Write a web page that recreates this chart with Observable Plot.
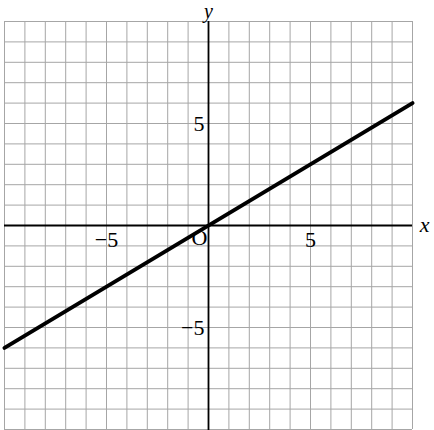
<!DOCTYPE html>
<html>
<head>
<meta charset="utf-8">
<script src="https://cdn.jsdelivr.net/npm/d3@7"></script>
<script src="https://cdn.jsdelivr.net/npm/@observablehq/plot@0.6"></script>
<style>
  html, body { margin: 0; padding: 0; background: #fff; }
</style>
</head>
<body>
<div id="chart"></div>
<script>
const gridValues = d3.range(-10, 11);
const lineX = [-10, 10];
const lineY = [-6, 6];
const xTickLabels = [-5, 5];
const yTickLabels = [-5, 5];

const lineData = lineX.map((x, i) => ({x, y: lineY[i]}));
const font = "Liberation Serif";
const fmt = v => v < 0 ? "\u2212" + Math.abs(v) : String(v);

const chart = Plot.plot({
  width: 434,
  height: 430,
  marginLeft: 4,
  marginRight: 22,
  marginTop: 21,
  marginBottom: 1,
  x: {domain: [-10, 10], axis: null},
  y: {domain: [-10, 10], axis: null},
  marks: [
    Plot.ruleX(gridValues, {x: d => d, y1: -10, y2: 10, stroke: "#a6a6a6", strokeWidth: 1}),
    Plot.ruleY(gridValues, {y: d => d, x1: -10, x2: 10, stroke: "#a6a6a6", strokeWidth: 1}),
    Plot.ruleX([0], {y1: -10.1, y2: 10, stroke: "#000", strokeWidth: 1.8}),
    Plot.ruleY([0], {x1: -10, x2: 10, stroke: "#000", strokeWidth: 1.8}),
    Plot.line(lineData, {x: "x", y: "y", stroke: "#000", strokeWidth: 4}),
    Plot.text(xTickLabels, {x: d => d, y: 0, text: fmt, dy: 14, fontSize: 22, fontFamily: font, fill: "#000", textAnchor: "middle"}),
    Plot.text(yTickLabels, {x: 0, y: d => d, text: fmt, dx: -4, fontSize: 22, fontFamily: font, fill: "#000", textAnchor: "end"}),
    Plot.text(["O"], {x: 0, y: 0, text: d => d, dx: -9, dy: 12, fontSize: 22, fontFamily: font, fill: "#000", textAnchor: "middle"}),
    Plot.text(["x"], {x: 10, y: 0, text: d => d, dx: 12, dy: -1, fontSize: 22, fontFamily: font, fontStyle: "italic", fill: "#000", textAnchor: "middle"}),
    Plot.text(["y"], {x: 0, y: 10, text: d => d, dy: -10, fontSize: 20, fontFamily: font, fontStyle: "italic", fill: "#000", textAnchor: "middle"})
  ]
});
document.getElementById("chart").appendChild(chart);
</script>
</body>
</html>
